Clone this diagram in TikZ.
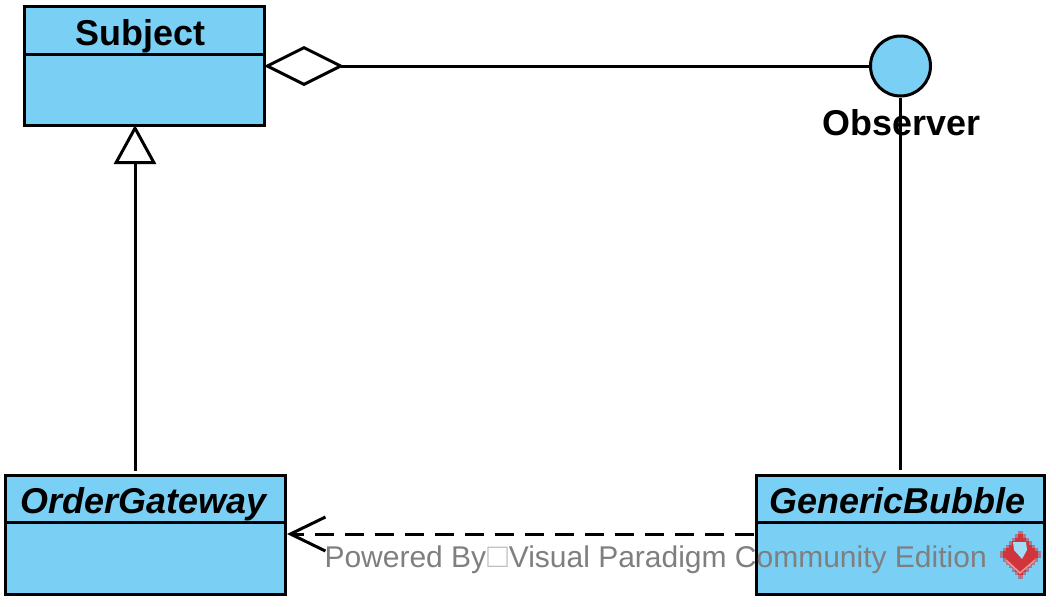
\documentclass[tikz,border=0pt]{standalone}
\usepackage{fontspec}
\setmainfont{Liberation Sans}
\usepackage{xcolor}
\usetikzlibrary{positioning}
\usetikzlibrary{calc}
\usetikzlibrary{arrows.meta}
\definecolor{classblue}{HTML}{7ACFF5}
\definecolor{logored}{HTML}{D2343C}
\definecolor{markgray}{HTML}{7F7F7F}

\begin{document}
\begin{tikzpicture}[x=1pt, y=-1pt, line width=3pt,
    classbox/.style={rectangle, draw, fill=classblue, inner sep=0pt},
    title/.style={font=\fontsize{35.9}{40}\selectfont\bfseries, inner sep=0pt, anchor=base},
    generalize/.style={-{Triangle[open, length=39pt, width=42pt]}, shorten >=-2pt},
    aggregate/.style={-{Diamond[open, length=80pt, width=40pt]}, shorten >=-2pt},
    depend/.style={-{Straight Barb[length=35pt, width=34pt]}, dash pattern=on 19pt off 11pt}]
            \useasboundingbox (0,0) rectangle (1056,606);
            % Define the classes
            \foreach \name/\cx/\bw/\cy/\dv/\tx/\ty/\fshape in {
                Subject/144.5/240/66/54/140.5/45/\upshape,
                OrderGateway/145.5/280/534.5/522/143.5/513/\itshape,
                GenericBubble/900/288/534.5/522/897.5/513/\itshape} {
                \node[classbox, minimum width=\bw pt, minimum height=119pt] (\name) at (\cx,\cy) {};
                \node[title] (\name Title) at (\tx,\ty) {\fshape\name};
                \draw (\name.west |- 0,\dv) -- (\name.east |- 0,\dv);
            }
            % The interface
            \node[circle, draw, fill=classblue, minimum size=60pt, inner sep=0pt] (Observer) at (900.5,66) {};
            \node[title] (ObserverTitle) at (901.5,135) {Observer};

            % Paths
            \coordinate (GenFoot) at (135,471);
            \coordinate (DepStart) at (754,534);
            \draw[generalize] (GenFoot) -- (GenFoot |- Subject.south); % OrderGateway -> Subject
            \draw[aggregate] (Observer) -- (Subject); % Observer -> Subject
            \draw (Observer.south) -- ($(Observer.south |- GenericBubble.north)+(0,-4)$); % Observer -- GenericBubble
            \draw[depend] (DepStart) -- (DepStart -| OrderGateway.east); % GenericBubble -> OrderGateway

            % Watermark
            \node[anchor=base west, inner sep=0pt, text=markgray, font=\fontsize{30}{32}\selectfont] (Mark) at (323,567)
                {Powered By\kern1pt{\color{lightgray}\fontsize{34}{34}\selectfont □}\kern1pt Visual Paradigm Community Edition};
            \foreach \i in {0,...,13} {
                \pgfmathsetmacro\hw{22*(1-abs(\i-6.5)/7.5)}
                \fill[logored!55!classblue] (1020.5-\hw,531+3.4*\i) rectangle (1020.5+\hw,534.4+3.4*\i);
                \pgfmathsetmacro\hc{max(\hw-3.4,0)}
                \fill[logored] (1020.5-\hc,531+3.4*\i) rectangle (1020.5+\hc,534.4+3.4*\i);
            }
            \fill[classblue!70!white] (1013,542) -- (1026,542) -- (1027,550) -- (1022,559) -- (1014,550) -- cycle;
            \draw[logored!50!white, line width=1.5pt] (1006,560) -- (1020,573) -- (1035,560);
        \end{tikzpicture}
\end{document}
